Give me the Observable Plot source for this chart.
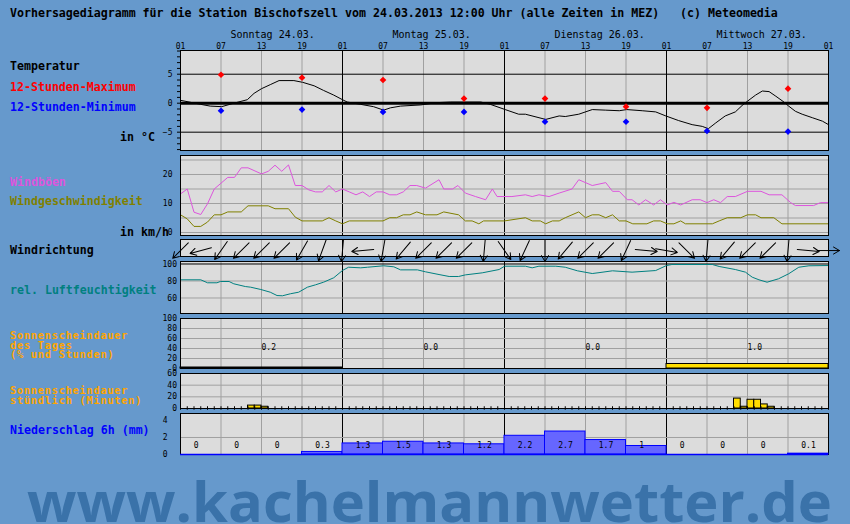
<!DOCTYPE html>
<html><head><meta charset="utf-8">
<script src="https://cdn.jsdelivr.net/npm/d3@7"></script>
<script src="https://cdn.jsdelivr.net/npm/@observablehq/plot@0.6"></script>
<style>
html,body{margin:0;padding:0;background:#6699cc;}
#chart{position:relative;width:850px;height:524px;background:#6699cc;overflow:hidden;}
</style></head><body><div id="chart"></div>
<script>
// ---------- data ----------
const hourTicks = [0,6,12,18,24,30,36,42,48,54,60,66,72,78,84,90,96];
const hourLabels = ["01","07","13","19","01","07","13","19","01","07","13","19","01","07","13","19","01"];
const dayStarts = [0,24,48,72];
const dayNames = ["Sonntag 24.03.","Montag 25.03.","Dienstag 26.03.","Mittwoch 27.03."];

const tempHours = [0,3,4.4,6.1,7.9,9.9,10.9,12,13.3,14.6,16.8,18.1,19.8,21.2,22.7,24,24.7,26.7,28.6,30.1,31.1,32.6,35.6,38,40,44.5,45.9,48.1,50.1,51.1,54.1,56.1,57,59,61,63,65,66.1,68.4,70.4,71.9,73.8,75.8,77.3,78.2,79.3,80.7,82.2,83.2,84,85.2,86.2,87.2,88.2,89.4,90.1,91.1,92.1,93.6,95.1,96];
const tempValues = [0.5,-0.2,-0.5,-0.6,0,0.6,1.7,2.5,3.2,3.9,3.9,3.6,3.0,2.2,1.4,0.6,0.2,-0.2,-0.6,-1.2,-0.8,-0.5,-0.3,0.1,0.2,0.2,-0.2,-1.1,-1.9,-1.9,-2.8,-2.2,-2.3,-1.9,-1.1,-1.2,-1.3,-1.1,-1.3,-1.5,-2.2,-3.0,-3.7,-4.0,-4.4,-3.4,-2.2,-1.5,-0.4,0.35,1.4,2.1,2.0,1.2,0.2,-0.5,-1.4,-1.9,-2.5,-3.1,-3.7];
const extremeHours = [6,18,30,42,54,66,78,90];
const tmaxValues = [4.9,4.4,4.0,0.8,0.8,-0.6,-0.8,2.5];
const tminValues = [-1.3,-1.1,-1.5,-1.5,-3.2,-3.2,-4.8,-4.9];

const gustHours = [0,1,2,3,4,5,7,8,9,10,12,13,14,15,16,17,18,19,20,21,22,23,24,25,26,27,28,29,30,31,32,33,34,35,36.3,38.3,39,40.3,41.1,42.2,43.7,45.2,46.2,46.9,49.1,51.1,52.1,53.1,54.6,56.1,58,59,61,63,64,65,66.2,66.9,67.9,68.9,70.1,71.1,72.1,73.1,74.1,75.8,77,78,79,80,81,82.2,84,86,87.2,89.1,90.4,91.1,93.8,94.8,96];
const gustValues = [13.3,15,7,6.2,9.9,15,19,19,22.3,22.3,20.2,21.1,23.2,21.1,23.3,16.2,16.2,14.7,14,14,16.2,14,15,14,13,14,12.4,14,14,13,13,14,16.2,16.2,15.3,18.2,15,15,16.2,13.6,12.4,11.3,15,12.4,12.4,13,12.4,13,12.4,13.6,15,18.2,16.2,17.2,14.2,14.2,11.3,11.3,9.5,11.3,9.5,11.3,9.5,10.4,9.5,11.3,11.3,10.3,11.3,10.3,12.4,12.4,14.2,14.2,13,13,10.3,9.3,9.3,10.3,10.3];

const speedHours = [0,1,2,3,4,5,6,7,9,10,13,14,16,17,18,21,22,23,24,25,30,31,32,33,34,35,36.3,38,39,41.2,42.2,43.2,44.2,44.9,48,51.1,52.1,53.3,54.1,55.1,56.1,57,58,59,60,61,62,63,64,65,66,67,69.1,70.1,71.1,72.1,73.1,74.1,74.8,78.8,79.8,81,83,84,85.2,86,87.9,89.1,96];
const speedValues = [6.1,4.7,2.1,2.1,3.6,6.1,6.1,7.1,7.1,9.2,9.2,8.2,8.2,5.3,4.0,4.0,5.1,4.0,3.0,4.0,4.0,5.1,5.1,6.1,6.1,7.1,6.1,6.1,7.1,6.1,4.0,4.0,3.0,4.0,4.0,5.1,4.0,4.0,3.0,4.0,4.0,5.1,6.1,7.1,5.1,6.1,6.1,5.1,6.1,4.0,4.0,3.0,3.0,4.0,4.0,3.0,3.0,4.0,3.0,3.0,4.0,5.1,5.1,6.1,6.1,5.1,5.1,3.0,3.0];

const dirHours = [0,3,6,9,12,15,18,21,24,27,30,33,36,39,42,45,48,51,54,57,60,63,66,69,72,75,78,81,84,87,90,93,96];
const dirAngles = [225,255,215,225,225,225,210,200,185,265,190,220,225,225,225,185,145,205,180,220,225,225,205,95,100,135,185,220,225,225,185,95,90];

const rhHours = [0,3,4,5.4,5.9,7.2,7.9,9.6,10.4,11.9,13.3,14.3,15.1,16.3,17.5,18.8,20,21.2,22.7,24,24.9,26.7,27.7,30.1,31.6,32.6,35.1,36.3,38.3,39.8,41.2,42.2,44.7,47.2,48,51.1,52.1,53.1,55.6,57,58.8,61,62,64,66.9,70.4,72,72.8,78.8,79.8,82.2,83.7,84.7,85.7,86.9,88.6,90.1,91.6,93.1,96];
const rhValues = [81.4,81.4,77.9,77.9,79.4,79.4,76.7,73.5,72.7,70,66.8,62.9,62.6,65,66.8,72.7,75.5,78.6,83.8,92.4,96.2,95.5,96.2,97.9,96.7,93.1,93.1,90.8,87.6,85.3,85.3,87.2,89.6,93.5,97.4,97.4,95.5,97.4,97.4,96.2,92,88.8,89.8,92,90.4,92.3,98.2,99.4,99.4,97.1,93.5,90.4,84.5,81.4,78.6,82.6,88.5,96.2,97.9,98.2];

const sunDayPct = [2,0,0,9];
const sunDayLabels = ["0.2","0.0","0.0","1.0"];
const sunHourStart = [10,11,12,82,83,84,85,86,87];
const sunHourMin = [5,5,3,17,3,15,15,7,3];

const precipStart = [0,6,12,18,24,30,36,42,48,54,60,66,72,78,84,90];
const precipValues = [0,0,0,0.3,1.3,1.5,1.3,1.2,2.2,2.7,1.7,1,0,0,0,0.1];

const titleText = "Vorhersagediagramm für die Station Bischofszell vom 24.03.2013 12:00 Uhr (alle Zeiten in MEZ)   (c) Meteomedia";
const leftLabels = [
  ["Temperatur","black",10,70,11.6],
  ["12-Stunden-Maximum","#ff0000",10,90.5,11.6],
  ["12-Stunden-Minimum","#0000ff",10,110.5,11.6],
  ["in °C","black",120,141,11.6],
  ["Windböen","#dd55dd",10,186,11.6],
  ["Windgeschwindigkeit","#808000",10,205,11.6],
  ["in km/h","black",120,236,11.6],
  ["Windrichtung","black",10,254,11.6],
  ["rel. Luftfeuchtigkeit","#008080",10,294,11.6],
  ["Sonnenscheindauer","#ffa500",10,339,10.4],
  ["des Tages","#ffa500",10,348.5,10.4],
  ["(% und Stunden)","#ffa500",10,357.5,10.4],
  ["Sonnenscheindauer","#ffa500",10,394,10.4],
  ["stündlich (Minuten)","#ffa500",10,403.5,10.4],
  ["Niederschlag 6h (mm)","#0000ff",10,434,11.6]
];
const watermark = "www.kachelmannwetter.de";

// ---------- drawing ----------
const FONT = "'DejaVu Sans Mono', monospace";
const chart = document.getElementById("chart");
const ov = d3.select(chart).append("svg").attr("width", 850).attr("height", 524)
  .style("position", "absolute").style("left", "0px").style("top", "0px");
ov.append("text").attr("x", 10).attr("y", 16.5).attr("font-family", FONT).attr("font-weight", "bold")
  .attr("font-size", 11.6).attr("fill", "black").attr("xml:space", "preserve").style("white-space", "pre").text(titleText);
for (const [t, c, x, y, fs] of leftLabels) {
  ov.append("text").attr("x", x).attr("y", y).attr("font-family", FONT).attr("font-weight", "bold")
    .attr("font-size", fs).attr("letter-spacing", fs < 11 ? 0.7 : 0).attr("fill", c).text(t);
}
ov.append("text").attr("x", 27).attr("y", 522).attr("font-family", "'Open Sans', sans-serif").attr("font-weight", 700)
  .attr("font-size", 55).attr("fill", "#3a72a9").attr("textLength", 805).attr("lengthAdjust", "spacingAndGlyphs").text(watermark);

const gridHours = hourTicks.filter(h => h % 24 !== 0);
const dayLines = hourTicks.filter(h => h % 24 === 0);

function panel(top, bottom, yDomain, marks, mt = 0, mb = 0) {
  const svg = Plot.plot({
    width: 850, height: (bottom - top) + mt + mb,
    marginLeft: 180, marginRight: 22, marginTop: mt, marginBottom: mb,
    x: {domain: [0, 96], axis: null},
    y: {domain: yDomain, axis: null},
    style: {background: "transparent", fontFamily: FONT, fontSize: "8px", color: "black", overflow: "visible"},
    marks
  });
  Object.assign(svg.style, {position: "absolute", left: "0px", top: (top - mt) + "px", maxWidth: "none"});
  chart.appendChild(svg);
}
const base = () => [
  Plot.frame({fill: "#dcdcdc", stroke: "none"}),
  Plot.ruleX(gridHours, {stroke: "#a0a0a0"}),
  Plot.ruleX(dayLines, {stroke: "black"})
];
const border = () => Plot.frame({stroke: "black", fill: "none"});
const intFmt = d3.format("d");

// temperature
panel(50, 150, [-8.16, 9.09], [
  ...base(),
  Plot.ruleY([-5, 5], {stroke: "black"}),
  Plot.ruleY([0], {stroke: "black", strokeWidth: 3}),
  Plot.lineY(tempValues, {x: tempHours, stroke: "black", strokeWidth: 1}),
  Plot.dot(tmaxValues, {x: extremeHours, y: tmaxValues, symbol: "diamond2", r: 3, fill: "#ff0000", stroke: "none"}),
  Plot.dot(tminValues, {x: extremeHours, y: tminValues, symbol: "diamond2", r: 3, fill: "#0000ff", stroke: "none"}),
  border(),
  Plot.axisY({ticks: d3.range(-8, 10), tickSize: 3, tickFormat: () => "", label: null}),
  Plot.axisY({ticks: [-5, 0, 5], tickSize: 0, tickPadding: 8, tickFormat: intFmt, label: null}),
  Plot.axisX({anchor: "top", ticks: hourTicks, tickFormat: d => hourLabels[hourTicks.indexOf(d)], tickSize: 0, tickPadding: 2, label: null}),
  Plot.text(dayNames, {x: dayStarts, text: d => d, frameAnchor: "top", dy: -13, dx: 50, textAnchor: "start", lineAnchor: "bottom", fontSize: 10})
], 30, 0);

// wind
panel(155, 235, [-1.03, 26.55], [
  ...base(),
  Plot.ruleY([0, 5, 10, 15, 20, 25], {stroke: "#a0a0a0"}),
  Plot.lineY(gustValues, {x: gustHours, stroke: "#dd55dd", strokeWidth: 1}),
  Plot.lineY(speedValues, {x: speedHours, stroke: "#808000", strokeWidth: 1}),
  border(),
  Plot.axisY({ticks: [0, 10, 20], tickSize: 0, tickPadding: 8, tickFormat: intFmt, label: null})
]);

// wind direction
const arrowShape = {draw(ctx, l) { ctx.moveTo(0, 0); ctx.lineTo(0, -l); ctx.moveTo(-3.5, -l + 6); ctx.lineTo(0, -l); ctx.lineTo(3.5, -l + 6); }};
panel(239, 256, [0, 1], [
  ...base(),
  border(),
  Plot.vector(dirAngles, {x: dirHours, y: 0.35, rotate: d => d, length: 22, anchor: "middle", stroke: "black", strokeWidth: 1, shape: arrowShape})
]);

// humidity
panel(261, 313, [41.76, 102.94], [
  ...base(),
  Plot.ruleY([60, 80], {stroke: "#a0a0a0"}),
  Plot.ruleY([100], {stroke: "black"}),
  Plot.lineY(rhValues, {x: rhHours, stroke: "#008080", strokeWidth: 1}),
  border(),
  Plot.axisY({ticks: [60, 80, 100], tickSize: 0, tickPadding: 3.5, tickFormat: intFmt, label: null})
]);

// sunshine per day
panel(318, 368, [0, 100], [
  ...base(),
  Plot.ruleY([20, 40, 60, 80], {stroke: "#a0a0a0"}),
  Plot.rectY(sunDayPct, {x1: dayStarts, x2: dayStarts.map(d => d + 24), y: d => d, fill: "#ffdd00", stroke: "black"}),
  Plot.text(sunDayLabels, {x: dayStarts.map(d => d + 12), y: 42, text: d => d, textAnchor: "start", fontSize: 8}),
  border(),
  Plot.axisY({ticks: [0, 20, 40, 60, 80, 100], tickSize: 0, tickPadding: 3.5, tickFormat: intFmt, label: null})
]);

// sunshine per hour
panel(373, 408, [0, 60], [
  ...base(),
  Plot.ruleY([20, 40], {stroke: "#a0a0a0"}),
  Plot.rectY(sunHourMin, {x1: sunHourStart, x2: sunHourStart.map(h => h + 1), y: d => d, fill: "#ffdd00", stroke: "black"}),
  border(),
  Plot.ruleX(d3.range(0, 97), {y1: -3, y2: 3, stroke: "black"}),
  Plot.axisY({ticks: [0, 20, 40, 60], tickSize: 0, tickPadding: 3.5, tickFormat: intFmt, label: null})
]);

// precipitation
panel(413, 454, [0, 4.82], [
  ...base(),
  Plot.ruleY([2], {stroke: "#a0a0a0"}),
  border(),
  Plot.rectY(precipValues, {x1: precipStart, x2: precipStart.map(h => h + 6), y: d => d, fill: "#6666ff", stroke: "#0000ff"}),
  Plot.ruleY([0], {stroke: "#0000ff", strokeWidth: 1.5}),
  Plot.text(precipValues, {x: precipStart.map(h => h + 3), y: 1.05, text: d => String(d), textAnchor: "start", dx: -7, fontSize: 8}),
  Plot.axisY({ticks: [0, 2, 4], tickSize: 0, tickPadding: 13, tickFormat: intFmt, label: null})
]);
</script></body></html>
